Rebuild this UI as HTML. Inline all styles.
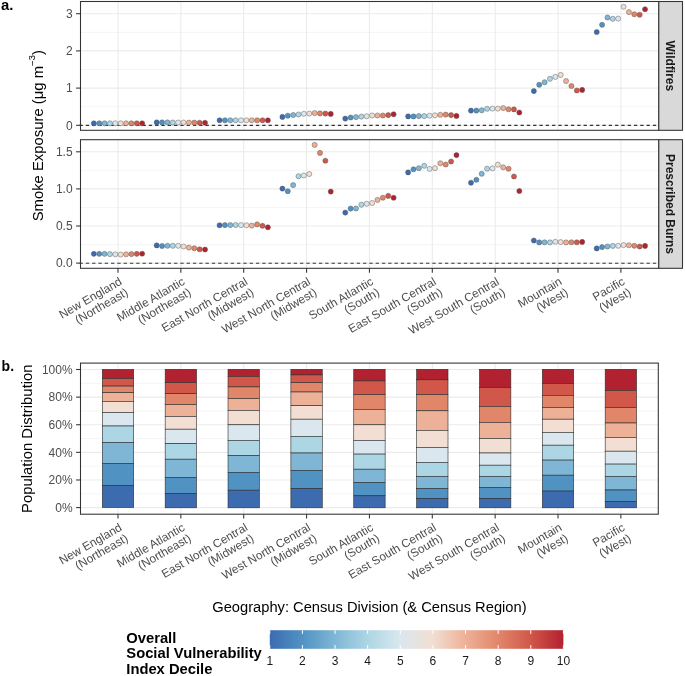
<!DOCTYPE html>
<html><head><meta charset="utf-8"><style>html,body{margin:0;padding:0;background:#fff;width:685px;height:676px;overflow:hidden} svg{will-change:transform} svg text{font-family:"Liberation Sans",sans-serif}</style></head>
<body><svg width="685" height="676" viewBox="0 0 685 676" style="display:block"><rect width="685" height="676" fill="#FFFFFF"/><line x1="80.5" x2="658.8" y1="106.70" y2="106.70" stroke="#EBEBEB" stroke-width="0.55"/><line x1="80.5" x2="658.8" y1="69.50" y2="69.50" stroke="#EBEBEB" stroke-width="0.55"/><line x1="80.5" x2="658.8" y1="32.30" y2="32.30" stroke="#EBEBEB" stroke-width="0.55"/><line x1="80.5" x2="658.8" y1="125.30" y2="125.30" stroke="#EBEBEB" stroke-width="1.07"/><line x1="80.5" x2="658.8" y1="88.10" y2="88.10" stroke="#EBEBEB" stroke-width="1.07"/><line x1="80.5" x2="658.8" y1="50.90" y2="50.90" stroke="#EBEBEB" stroke-width="1.07"/><line x1="80.5" x2="658.8" y1="13.70" y2="13.70" stroke="#EBEBEB" stroke-width="1.07"/><line x1="118.00" x2="118.00" y1="1.5" y2="130.3" stroke="#EBEBEB" stroke-width="1.07"/><line x1="180.86" x2="180.86" y1="1.5" y2="130.3" stroke="#EBEBEB" stroke-width="1.07"/><line x1="243.72" x2="243.72" y1="1.5" y2="130.3" stroke="#EBEBEB" stroke-width="1.07"/><line x1="306.58" x2="306.58" y1="1.5" y2="130.3" stroke="#EBEBEB" stroke-width="1.07"/><line x1="369.44" x2="369.44" y1="1.5" y2="130.3" stroke="#EBEBEB" stroke-width="1.07"/><line x1="432.30" x2="432.30" y1="1.5" y2="130.3" stroke="#EBEBEB" stroke-width="1.07"/><line x1="495.16" x2="495.16" y1="1.5" y2="130.3" stroke="#EBEBEB" stroke-width="1.07"/><line x1="558.02" x2="558.02" y1="1.5" y2="130.3" stroke="#EBEBEB" stroke-width="1.07"/><line x1="620.88" x2="620.88" y1="1.5" y2="130.3" stroke="#EBEBEB" stroke-width="1.07"/><line x1="79.55" x2="658.8" y1="125.35" y2="125.35" stroke="#333333" stroke-width="1.1" stroke-dasharray="3.3 3.0"/><circle cx="93.84" cy="123.30" r="2.55" fill="#3C6BB0" stroke="#555555" stroke-width="0.45"/><circle cx="99.20" cy="123.30" r="2.55" fill="#5093C3" stroke="#555555" stroke-width="0.45"/><circle cx="104.58" cy="123.30" r="2.55" fill="#7FB6D5" stroke="#555555" stroke-width="0.45"/><circle cx="109.94" cy="123.30" r="2.55" fill="#ADD6E5" stroke="#555555" stroke-width="0.45"/><circle cx="115.31" cy="123.30" r="2.55" fill="#DAE7EE" stroke="#555555" stroke-width="0.45"/><circle cx="120.69" cy="123.30" r="2.55" fill="#F2DED2" stroke="#555555" stroke-width="0.45"/><circle cx="126.06" cy="123.30" r="2.55" fill="#EDB198" stroke="#555555" stroke-width="0.45"/><circle cx="131.43" cy="123.30" r="2.55" fill="#E2866A" stroke="#555555" stroke-width="0.45"/><circle cx="136.80" cy="123.30" r="2.55" fill="#D05749" stroke="#555555" stroke-width="0.45"/><circle cx="142.16" cy="123.30" r="2.55" fill="#B22130" stroke="#555555" stroke-width="0.45"/><circle cx="156.70" cy="122.40" r="2.55" fill="#3C6BB0" stroke="#555555" stroke-width="0.45"/><circle cx="162.06" cy="122.40" r="2.55" fill="#5093C3" stroke="#555555" stroke-width="0.45"/><circle cx="167.44" cy="122.40" r="2.55" fill="#7FB6D5" stroke="#555555" stroke-width="0.45"/><circle cx="172.81" cy="122.50" r="2.55" fill="#ADD6E5" stroke="#555555" stroke-width="0.45"/><circle cx="178.18" cy="122.50" r="2.55" fill="#DAE7EE" stroke="#555555" stroke-width="0.45"/><circle cx="183.55" cy="122.50" r="2.55" fill="#F2DED2" stroke="#555555" stroke-width="0.45"/><circle cx="188.92" cy="122.60" r="2.55" fill="#EDB198" stroke="#555555" stroke-width="0.45"/><circle cx="194.29" cy="122.60" r="2.55" fill="#E2866A" stroke="#555555" stroke-width="0.45"/><circle cx="199.66" cy="122.70" r="2.55" fill="#D05749" stroke="#555555" stroke-width="0.45"/><circle cx="205.03" cy="122.70" r="2.55" fill="#B22130" stroke="#555555" stroke-width="0.45"/><circle cx="219.56" cy="120.30" r="2.55" fill="#3C6BB0" stroke="#555555" stroke-width="0.45"/><circle cx="224.93" cy="120.30" r="2.55" fill="#5093C3" stroke="#555555" stroke-width="0.45"/><circle cx="230.29" cy="120.30" r="2.55" fill="#7FB6D5" stroke="#555555" stroke-width="0.45"/><circle cx="235.66" cy="120.30" r="2.55" fill="#ADD6E5" stroke="#555555" stroke-width="0.45"/><circle cx="241.03" cy="120.30" r="2.55" fill="#DAE7EE" stroke="#555555" stroke-width="0.45"/><circle cx="246.41" cy="120.30" r="2.55" fill="#F2DED2" stroke="#555555" stroke-width="0.45"/><circle cx="251.78" cy="120.30" r="2.55" fill="#EDB198" stroke="#555555" stroke-width="0.45"/><circle cx="257.14" cy="120.30" r="2.55" fill="#E2866A" stroke="#555555" stroke-width="0.45"/><circle cx="262.51" cy="120.30" r="2.55" fill="#D05749" stroke="#555555" stroke-width="0.45"/><circle cx="267.88" cy="120.30" r="2.55" fill="#B22130" stroke="#555555" stroke-width="0.45"/><circle cx="282.41" cy="116.90" r="2.55" fill="#3C6BB0" stroke="#555555" stroke-width="0.45"/><circle cx="287.78" cy="115.70" r="2.55" fill="#5093C3" stroke="#555555" stroke-width="0.45"/><circle cx="293.15" cy="115.00" r="2.55" fill="#7FB6D5" stroke="#555555" stroke-width="0.45"/><circle cx="298.52" cy="114.50" r="2.55" fill="#ADD6E5" stroke="#555555" stroke-width="0.45"/><circle cx="303.89" cy="113.80" r="2.55" fill="#DAE7EE" stroke="#555555" stroke-width="0.45"/><circle cx="309.26" cy="113.60" r="2.55" fill="#F2DED2" stroke="#555555" stroke-width="0.45"/><circle cx="314.63" cy="113.10" r="2.55" fill="#EDB198" stroke="#555555" stroke-width="0.45"/><circle cx="320.00" cy="113.40" r="2.55" fill="#E2866A" stroke="#555555" stroke-width="0.45"/><circle cx="325.38" cy="113.60" r="2.55" fill="#D05749" stroke="#555555" stroke-width="0.45"/><circle cx="330.75" cy="113.90" r="2.55" fill="#B22130" stroke="#555555" stroke-width="0.45"/><circle cx="345.27" cy="118.60" r="2.55" fill="#3C6BB0" stroke="#555555" stroke-width="0.45"/><circle cx="350.64" cy="117.50" r="2.55" fill="#5093C3" stroke="#555555" stroke-width="0.45"/><circle cx="356.01" cy="117.10" r="2.55" fill="#7FB6D5" stroke="#555555" stroke-width="0.45"/><circle cx="361.38" cy="116.60" r="2.55" fill="#ADD6E5" stroke="#555555" stroke-width="0.45"/><circle cx="366.75" cy="116.20" r="2.55" fill="#DAE7EE" stroke="#555555" stroke-width="0.45"/><circle cx="372.12" cy="115.50" r="2.55" fill="#F2DED2" stroke="#555555" stroke-width="0.45"/><circle cx="377.50" cy="115.50" r="2.55" fill="#EDB198" stroke="#555555" stroke-width="0.45"/><circle cx="382.87" cy="115.50" r="2.55" fill="#E2866A" stroke="#555555" stroke-width="0.45"/><circle cx="388.24" cy="115.10" r="2.55" fill="#D05749" stroke="#555555" stroke-width="0.45"/><circle cx="393.61" cy="114.20" r="2.55" fill="#B22130" stroke="#555555" stroke-width="0.45"/><circle cx="408.13" cy="116.40" r="2.55" fill="#3C6BB0" stroke="#555555" stroke-width="0.45"/><circle cx="413.50" cy="116.40" r="2.55" fill="#5093C3" stroke="#555555" stroke-width="0.45"/><circle cx="418.88" cy="116.10" r="2.55" fill="#7FB6D5" stroke="#555555" stroke-width="0.45"/><circle cx="424.25" cy="116.10" r="2.55" fill="#ADD6E5" stroke="#555555" stroke-width="0.45"/><circle cx="429.62" cy="115.70" r="2.55" fill="#DAE7EE" stroke="#555555" stroke-width="0.45"/><circle cx="434.99" cy="115.30" r="2.55" fill="#F2DED2" stroke="#555555" stroke-width="0.45"/><circle cx="440.36" cy="114.80" r="2.55" fill="#EDB198" stroke="#555555" stroke-width="0.45"/><circle cx="445.73" cy="114.60" r="2.55" fill="#E2866A" stroke="#555555" stroke-width="0.45"/><circle cx="451.10" cy="115.10" r="2.55" fill="#D05749" stroke="#555555" stroke-width="0.45"/><circle cx="456.47" cy="115.90" r="2.55" fill="#B22130" stroke="#555555" stroke-width="0.45"/><circle cx="470.99" cy="110.60" r="2.55" fill="#3C6BB0" stroke="#555555" stroke-width="0.45"/><circle cx="476.36" cy="110.60" r="2.55" fill="#5093C3" stroke="#555555" stroke-width="0.45"/><circle cx="481.73" cy="110.30" r="2.55" fill="#7FB6D5" stroke="#555555" stroke-width="0.45"/><circle cx="487.10" cy="108.80" r="2.55" fill="#ADD6E5" stroke="#555555" stroke-width="0.45"/><circle cx="492.47" cy="108.60" r="2.55" fill="#DAE7EE" stroke="#555555" stroke-width="0.45"/><circle cx="497.84" cy="108.60" r="2.55" fill="#F2DED2" stroke="#555555" stroke-width="0.45"/><circle cx="503.21" cy="108.10" r="2.55" fill="#EDB198" stroke="#555555" stroke-width="0.45"/><circle cx="508.58" cy="109.30" r="2.55" fill="#E2866A" stroke="#555555" stroke-width="0.45"/><circle cx="513.95" cy="109.40" r="2.55" fill="#D05749" stroke="#555555" stroke-width="0.45"/><circle cx="519.32" cy="112.50" r="2.55" fill="#B22130" stroke="#555555" stroke-width="0.45"/><circle cx="533.86" cy="91.10" r="2.55" fill="#3C6BB0" stroke="#555555" stroke-width="0.45"/><circle cx="539.23" cy="84.80" r="2.55" fill="#5093C3" stroke="#555555" stroke-width="0.45"/><circle cx="544.60" cy="82.20" r="2.55" fill="#7FB6D5" stroke="#555555" stroke-width="0.45"/><circle cx="549.97" cy="78.80" r="2.55" fill="#ADD6E5" stroke="#555555" stroke-width="0.45"/><circle cx="555.34" cy="76.90" r="2.55" fill="#DAE7EE" stroke="#555555" stroke-width="0.45"/><circle cx="560.70" cy="74.90" r="2.55" fill="#F2DED2" stroke="#555555" stroke-width="0.45"/><circle cx="566.07" cy="81.00" r="2.55" fill="#EDB198" stroke="#555555" stroke-width="0.45"/><circle cx="571.44" cy="86.00" r="2.55" fill="#E2866A" stroke="#555555" stroke-width="0.45"/><circle cx="576.81" cy="90.50" r="2.55" fill="#D05749" stroke="#555555" stroke-width="0.45"/><circle cx="582.18" cy="89.90" r="2.55" fill="#B22130" stroke="#555555" stroke-width="0.45"/><circle cx="596.72" cy="32.00" r="2.55" fill="#3C6BB0" stroke="#555555" stroke-width="0.45"/><circle cx="602.09" cy="24.80" r="2.55" fill="#5093C3" stroke="#555555" stroke-width="0.45"/><circle cx="607.46" cy="17.50" r="2.55" fill="#7FB6D5" stroke="#555555" stroke-width="0.45"/><circle cx="612.83" cy="18.80" r="2.55" fill="#ADD6E5" stroke="#555555" stroke-width="0.45"/><circle cx="618.20" cy="18.60" r="2.55" fill="#DAE7EE" stroke="#555555" stroke-width="0.45"/><circle cx="623.56" cy="6.80" r="2.55" fill="#F2DED2" stroke="#555555" stroke-width="0.45"/><circle cx="628.93" cy="12.10" r="2.55" fill="#EDB198" stroke="#555555" stroke-width="0.45"/><circle cx="634.30" cy="14.20" r="2.55" fill="#E2866A" stroke="#555555" stroke-width="0.45"/><circle cx="639.67" cy="14.70" r="2.55" fill="#D05749" stroke="#555555" stroke-width="0.45"/><circle cx="645.04" cy="9.20" r="2.55" fill="#B22130" stroke="#555555" stroke-width="0.45"/><rect x="80.5" y="1.5" width="578.30" height="128.80" fill="none" stroke="#333333" stroke-width="1.07"/><rect x="658.8" y="1.5" width="23.70" height="128.80" fill="#D9D9D9" stroke="#333333" stroke-width="1.07"/><text transform="translate(666.4,65.90) rotate(90)" text-anchor="middle" font-size="12.0" font-weight="bold" fill="#1A1A1A">Wildfires</text><line x1="76.1" x2="80.5" y1="125.30" y2="125.30" stroke="#333333" stroke-width="1.07"/><text x="72.6" y="129.50" text-anchor="end" font-size="12.0" fill="#4D4D4D">0</text><line x1="76.1" x2="80.5" y1="88.10" y2="88.10" stroke="#333333" stroke-width="1.07"/><text x="72.6" y="92.30" text-anchor="end" font-size="12.0" fill="#4D4D4D">1</text><line x1="76.1" x2="80.5" y1="50.90" y2="50.90" stroke="#333333" stroke-width="1.07"/><text x="72.6" y="55.10" text-anchor="end" font-size="12.0" fill="#4D4D4D">2</text><line x1="76.1" x2="80.5" y1="13.70" y2="13.70" stroke="#333333" stroke-width="1.07"/><text x="72.6" y="17.90" text-anchor="end" font-size="12.0" fill="#4D4D4D">3</text><line x1="80.5" x2="658.8" y1="244.55" y2="244.55" stroke="#EBEBEB" stroke-width="0.55"/><line x1="80.5" x2="658.8" y1="207.45" y2="207.45" stroke="#EBEBEB" stroke-width="0.55"/><line x1="80.5" x2="658.8" y1="170.35" y2="170.35" stroke="#EBEBEB" stroke-width="0.55"/><line x1="80.5" x2="658.8" y1="263.10" y2="263.10" stroke="#EBEBEB" stroke-width="1.07"/><line x1="80.5" x2="658.8" y1="226.00" y2="226.00" stroke="#EBEBEB" stroke-width="1.07"/><line x1="80.5" x2="658.8" y1="188.90" y2="188.90" stroke="#EBEBEB" stroke-width="1.07"/><line x1="80.5" x2="658.8" y1="151.80" y2="151.80" stroke="#EBEBEB" stroke-width="1.07"/><line x1="118.00" x2="118.00" y1="139.7" y2="268.3" stroke="#EBEBEB" stroke-width="1.07"/><line x1="180.86" x2="180.86" y1="139.7" y2="268.3" stroke="#EBEBEB" stroke-width="1.07"/><line x1="243.72" x2="243.72" y1="139.7" y2="268.3" stroke="#EBEBEB" stroke-width="1.07"/><line x1="306.58" x2="306.58" y1="139.7" y2="268.3" stroke="#EBEBEB" stroke-width="1.07"/><line x1="369.44" x2="369.44" y1="139.7" y2="268.3" stroke="#EBEBEB" stroke-width="1.07"/><line x1="432.30" x2="432.30" y1="139.7" y2="268.3" stroke="#EBEBEB" stroke-width="1.07"/><line x1="495.16" x2="495.16" y1="139.7" y2="268.3" stroke="#EBEBEB" stroke-width="1.07"/><line x1="558.02" x2="558.02" y1="139.7" y2="268.3" stroke="#EBEBEB" stroke-width="1.07"/><line x1="620.88" x2="620.88" y1="139.7" y2="268.3" stroke="#EBEBEB" stroke-width="1.07"/><line x1="79.55" x2="658.8" y1="263.2" y2="263.2" stroke="#333333" stroke-width="1.1" stroke-dasharray="3.3 3.0"/><circle cx="93.84" cy="253.90" r="2.55" fill="#3C6BB0" stroke="#555555" stroke-width="0.45"/><circle cx="99.20" cy="253.90" r="2.55" fill="#5093C3" stroke="#555555" stroke-width="0.45"/><circle cx="104.58" cy="253.90" r="2.55" fill="#7FB6D5" stroke="#555555" stroke-width="0.45"/><circle cx="109.94" cy="254.10" r="2.55" fill="#ADD6E5" stroke="#555555" stroke-width="0.45"/><circle cx="115.31" cy="254.30" r="2.55" fill="#DAE7EE" stroke="#555555" stroke-width="0.45"/><circle cx="120.69" cy="254.50" r="2.55" fill="#F2DED2" stroke="#555555" stroke-width="0.45"/><circle cx="126.06" cy="254.30" r="2.55" fill="#EDB198" stroke="#555555" stroke-width="0.45"/><circle cx="131.43" cy="254.10" r="2.55" fill="#E2866A" stroke="#555555" stroke-width="0.45"/><circle cx="136.80" cy="253.90" r="2.55" fill="#D05749" stroke="#555555" stroke-width="0.45"/><circle cx="142.16" cy="253.70" r="2.55" fill="#B22130" stroke="#555555" stroke-width="0.45"/><circle cx="156.70" cy="245.40" r="2.55" fill="#3C6BB0" stroke="#555555" stroke-width="0.45"/><circle cx="162.06" cy="246.00" r="2.55" fill="#5093C3" stroke="#555555" stroke-width="0.45"/><circle cx="167.44" cy="245.80" r="2.55" fill="#7FB6D5" stroke="#555555" stroke-width="0.45"/><circle cx="172.81" cy="245.80" r="2.55" fill="#ADD6E5" stroke="#555555" stroke-width="0.45"/><circle cx="178.18" cy="245.80" r="2.55" fill="#DAE7EE" stroke="#555555" stroke-width="0.45"/><circle cx="183.55" cy="246.50" r="2.55" fill="#F2DED2" stroke="#555555" stroke-width="0.45"/><circle cx="188.92" cy="247.60" r="2.55" fill="#EDB198" stroke="#555555" stroke-width="0.45"/><circle cx="194.29" cy="248.20" r="2.55" fill="#E2866A" stroke="#555555" stroke-width="0.45"/><circle cx="199.66" cy="249.30" r="2.55" fill="#D05749" stroke="#555555" stroke-width="0.45"/><circle cx="205.03" cy="249.50" r="2.55" fill="#B22130" stroke="#555555" stroke-width="0.45"/><circle cx="219.56" cy="225.30" r="2.55" fill="#3C6BB0" stroke="#555555" stroke-width="0.45"/><circle cx="224.93" cy="225.10" r="2.55" fill="#5093C3" stroke="#555555" stroke-width="0.45"/><circle cx="230.29" cy="225.10" r="2.55" fill="#7FB6D5" stroke="#555555" stroke-width="0.45"/><circle cx="235.66" cy="225.00" r="2.55" fill="#ADD6E5" stroke="#555555" stroke-width="0.45"/><circle cx="241.03" cy="225.10" r="2.55" fill="#DAE7EE" stroke="#555555" stroke-width="0.45"/><circle cx="246.41" cy="225.30" r="2.55" fill="#F2DED2" stroke="#555555" stroke-width="0.45"/><circle cx="251.78" cy="225.60" r="2.55" fill="#EDB198" stroke="#555555" stroke-width="0.45"/><circle cx="257.14" cy="224.40" r="2.55" fill="#E2866A" stroke="#555555" stroke-width="0.45"/><circle cx="262.51" cy="225.80" r="2.55" fill="#D05749" stroke="#555555" stroke-width="0.45"/><circle cx="267.88" cy="227.30" r="2.55" fill="#B22130" stroke="#555555" stroke-width="0.45"/><circle cx="282.41" cy="188.60" r="2.55" fill="#3C6BB0" stroke="#555555" stroke-width="0.45"/><circle cx="287.78" cy="191.20" r="2.55" fill="#5093C3" stroke="#555555" stroke-width="0.45"/><circle cx="293.15" cy="185.10" r="2.55" fill="#7FB6D5" stroke="#555555" stroke-width="0.45"/><circle cx="298.52" cy="176.20" r="2.55" fill="#ADD6E5" stroke="#555555" stroke-width="0.45"/><circle cx="303.89" cy="175.50" r="2.55" fill="#DAE7EE" stroke="#555555" stroke-width="0.45"/><circle cx="309.26" cy="174.00" r="2.55" fill="#F2DED2" stroke="#555555" stroke-width="0.45"/><circle cx="314.63" cy="144.90" r="2.55" fill="#EDB198" stroke="#555555" stroke-width="0.45"/><circle cx="320.00" cy="152.90" r="2.55" fill="#E2866A" stroke="#555555" stroke-width="0.45"/><circle cx="325.38" cy="160.70" r="2.55" fill="#D05749" stroke="#555555" stroke-width="0.45"/><circle cx="330.75" cy="191.60" r="2.55" fill="#B22130" stroke="#555555" stroke-width="0.45"/><circle cx="345.27" cy="212.60" r="2.55" fill="#3C6BB0" stroke="#555555" stroke-width="0.45"/><circle cx="350.64" cy="208.60" r="2.55" fill="#5093C3" stroke="#555555" stroke-width="0.45"/><circle cx="356.01" cy="208.50" r="2.55" fill="#7FB6D5" stroke="#555555" stroke-width="0.45"/><circle cx="361.38" cy="204.70" r="2.55" fill="#ADD6E5" stroke="#555555" stroke-width="0.45"/><circle cx="366.75" cy="203.80" r="2.55" fill="#DAE7EE" stroke="#555555" stroke-width="0.45"/><circle cx="372.12" cy="203.00" r="2.55" fill="#F2DED2" stroke="#555555" stroke-width="0.45"/><circle cx="377.50" cy="199.90" r="2.55" fill="#EDB198" stroke="#555555" stroke-width="0.45"/><circle cx="382.87" cy="197.70" r="2.55" fill="#E2866A" stroke="#555555" stroke-width="0.45"/><circle cx="388.24" cy="195.90" r="2.55" fill="#D05749" stroke="#555555" stroke-width="0.45"/><circle cx="393.61" cy="197.70" r="2.55" fill="#B22130" stroke="#555555" stroke-width="0.45"/><circle cx="408.13" cy="172.40" r="2.55" fill="#3C6BB0" stroke="#555555" stroke-width="0.45"/><circle cx="413.50" cy="169.30" r="2.55" fill="#5093C3" stroke="#555555" stroke-width="0.45"/><circle cx="418.88" cy="168.20" r="2.55" fill="#7FB6D5" stroke="#555555" stroke-width="0.45"/><circle cx="424.25" cy="165.80" r="2.55" fill="#ADD6E5" stroke="#555555" stroke-width="0.45"/><circle cx="429.62" cy="168.90" r="2.55" fill="#DAE7EE" stroke="#555555" stroke-width="0.45"/><circle cx="434.99" cy="168.20" r="2.55" fill="#F2DED2" stroke="#555555" stroke-width="0.45"/><circle cx="440.36" cy="163.20" r="2.55" fill="#EDB198" stroke="#555555" stroke-width="0.45"/><circle cx="445.73" cy="164.50" r="2.55" fill="#E2866A" stroke="#555555" stroke-width="0.45"/><circle cx="451.10" cy="161.50" r="2.55" fill="#D05749" stroke="#555555" stroke-width="0.45"/><circle cx="456.47" cy="155.10" r="2.55" fill="#B22130" stroke="#555555" stroke-width="0.45"/><circle cx="470.99" cy="182.70" r="2.55" fill="#3C6BB0" stroke="#555555" stroke-width="0.45"/><circle cx="476.36" cy="179.80" r="2.55" fill="#5093C3" stroke="#555555" stroke-width="0.45"/><circle cx="481.73" cy="173.80" r="2.55" fill="#7FB6D5" stroke="#555555" stroke-width="0.45"/><circle cx="487.10" cy="168.70" r="2.55" fill="#ADD6E5" stroke="#555555" stroke-width="0.45"/><circle cx="492.47" cy="168.40" r="2.55" fill="#DAE7EE" stroke="#555555" stroke-width="0.45"/><circle cx="497.84" cy="164.70" r="2.55" fill="#F2DED2" stroke="#555555" stroke-width="0.45"/><circle cx="503.21" cy="167.30" r="2.55" fill="#EDB198" stroke="#555555" stroke-width="0.45"/><circle cx="508.58" cy="168.80" r="2.55" fill="#E2866A" stroke="#555555" stroke-width="0.45"/><circle cx="513.95" cy="176.50" r="2.55" fill="#D05749" stroke="#555555" stroke-width="0.45"/><circle cx="519.32" cy="191.00" r="2.55" fill="#B22130" stroke="#555555" stroke-width="0.45"/><circle cx="533.86" cy="240.50" r="2.55" fill="#3C6BB0" stroke="#555555" stroke-width="0.45"/><circle cx="539.23" cy="242.40" r="2.55" fill="#5093C3" stroke="#555555" stroke-width="0.45"/><circle cx="544.60" cy="242.30" r="2.55" fill="#7FB6D5" stroke="#555555" stroke-width="0.45"/><circle cx="549.97" cy="242.40" r="2.55" fill="#ADD6E5" stroke="#555555" stroke-width="0.45"/><circle cx="555.34" cy="241.80" r="2.55" fill="#DAE7EE" stroke="#555555" stroke-width="0.45"/><circle cx="560.70" cy="242.10" r="2.55" fill="#F2DED2" stroke="#555555" stroke-width="0.45"/><circle cx="566.07" cy="242.40" r="2.55" fill="#EDB198" stroke="#555555" stroke-width="0.45"/><circle cx="571.44" cy="242.30" r="2.55" fill="#E2866A" stroke="#555555" stroke-width="0.45"/><circle cx="576.81" cy="242.30" r="2.55" fill="#D05749" stroke="#555555" stroke-width="0.45"/><circle cx="582.18" cy="241.90" r="2.55" fill="#B22130" stroke="#555555" stroke-width="0.45"/><circle cx="596.72" cy="248.40" r="2.55" fill="#3C6BB0" stroke="#555555" stroke-width="0.45"/><circle cx="602.09" cy="247.10" r="2.55" fill="#5093C3" stroke="#555555" stroke-width="0.45"/><circle cx="607.46" cy="246.50" r="2.55" fill="#7FB6D5" stroke="#555555" stroke-width="0.45"/><circle cx="612.83" cy="245.90" r="2.55" fill="#ADD6E5" stroke="#555555" stroke-width="0.45"/><circle cx="618.20" cy="245.80" r="2.55" fill="#DAE7EE" stroke="#555555" stroke-width="0.45"/><circle cx="623.56" cy="245.10" r="2.55" fill="#F2DED2" stroke="#555555" stroke-width="0.45"/><circle cx="628.93" cy="245.30" r="2.55" fill="#EDB198" stroke="#555555" stroke-width="0.45"/><circle cx="634.30" cy="245.80" r="2.55" fill="#E2866A" stroke="#555555" stroke-width="0.45"/><circle cx="639.67" cy="246.50" r="2.55" fill="#D05749" stroke="#555555" stroke-width="0.45"/><circle cx="645.04" cy="245.90" r="2.55" fill="#B22130" stroke="#555555" stroke-width="0.45"/><rect x="80.5" y="139.7" width="578.30" height="128.60" fill="none" stroke="#333333" stroke-width="1.07"/><rect x="658.8" y="139.7" width="23.70" height="128.60" fill="#D9D9D9" stroke="#333333" stroke-width="1.07"/><text transform="translate(666.4,204.00) rotate(90)" text-anchor="middle" font-size="12.0" font-weight="bold" fill="#1A1A1A">Prescribed Burns</text><line x1="76.1" x2="80.5" y1="263.10" y2="263.10" stroke="#333333" stroke-width="1.07"/><text x="72.6" y="267.30" text-anchor="end" font-size="12.0" fill="#4D4D4D">0.0</text><line x1="76.1" x2="80.5" y1="226.00" y2="226.00" stroke="#333333" stroke-width="1.07"/><text x="72.6" y="230.20" text-anchor="end" font-size="12.0" fill="#4D4D4D">0.5</text><line x1="76.1" x2="80.5" y1="188.90" y2="188.90" stroke="#333333" stroke-width="1.07"/><text x="72.6" y="193.10" text-anchor="end" font-size="12.0" fill="#4D4D4D">1.0</text><line x1="76.1" x2="80.5" y1="151.80" y2="151.80" stroke="#333333" stroke-width="1.07"/><text x="72.6" y="156.00" text-anchor="end" font-size="12.0" fill="#4D4D4D">1.5</text><line x1="118.00" x2="118.00" y1="268.3" y2="272.70" stroke="#333333" stroke-width="1.07"/><line x1="180.86" x2="180.86" y1="268.3" y2="272.70" stroke="#333333" stroke-width="1.07"/><line x1="243.72" x2="243.72" y1="268.3" y2="272.70" stroke="#333333" stroke-width="1.07"/><line x1="306.58" x2="306.58" y1="268.3" y2="272.70" stroke="#333333" stroke-width="1.07"/><line x1="369.44" x2="369.44" y1="268.3" y2="272.70" stroke="#333333" stroke-width="1.07"/><line x1="432.30" x2="432.30" y1="268.3" y2="272.70" stroke="#333333" stroke-width="1.07"/><line x1="495.16" x2="495.16" y1="268.3" y2="272.70" stroke="#333333" stroke-width="1.07"/><line x1="558.02" x2="558.02" y1="268.3" y2="272.70" stroke="#333333" stroke-width="1.07"/><line x1="620.88" x2="620.88" y1="268.3" y2="272.70" stroke="#333333" stroke-width="1.07"/><g transform="translate(118.00,275.60) rotate(-30)"><text text-anchor="end" font-size="11.8" fill="#4D4D4D"><tspan x="0" y="9.5">New England</tspan><tspan x="0" y="22.0">(Northeast)</tspan></text></g><g transform="translate(180.86,275.60) rotate(-30)"><text text-anchor="end" font-size="11.8" fill="#4D4D4D"><tspan x="0" y="9.5">Middle Atlantic</tspan><tspan x="0" y="22.0">(Northeast)</tspan></text></g><g transform="translate(243.72,275.60) rotate(-30)"><text text-anchor="end" font-size="11.8" fill="#4D4D4D"><tspan x="0" y="9.5">East North Central</tspan><tspan x="0" y="22.0">(Midwest)</tspan></text></g><g transform="translate(306.58,275.60) rotate(-30)"><text text-anchor="end" font-size="11.8" fill="#4D4D4D"><tspan x="0" y="9.5">West North Central</tspan><tspan x="0" y="22.0">(Midwest)</tspan></text></g><g transform="translate(369.44,275.60) rotate(-30)"><text text-anchor="end" font-size="11.8" fill="#4D4D4D"><tspan x="0" y="9.5">South Atlantic</tspan><tspan x="0" y="22.0">(South)</tspan></text></g><g transform="translate(432.30,275.60) rotate(-30)"><text text-anchor="end" font-size="11.8" fill="#4D4D4D"><tspan x="0" y="9.5">East South Central</tspan><tspan x="0" y="22.0">(South)</tspan></text></g><g transform="translate(495.16,275.60) rotate(-30)"><text text-anchor="end" font-size="11.8" fill="#4D4D4D"><tspan x="0" y="9.5">West South Central</tspan><tspan x="0" y="22.0">(South)</tspan></text></g><g transform="translate(558.02,275.60) rotate(-30)"><text text-anchor="end" font-size="11.8" fill="#4D4D4D"><tspan x="0" y="9.5">Mountain</tspan><tspan x="0" y="22.0">(West)</tspan></text></g><g transform="translate(620.88,275.60) rotate(-30)"><text text-anchor="end" font-size="11.8" fill="#4D4D4D"><tspan x="0" y="9.5">Pacific</tspan><tspan x="0" y="22.0">(West)</tspan></text></g><text transform="translate(42.7,135.7) rotate(-90)" text-anchor="middle" font-size="14.85" fill="#000">Smoke Exposure (μg m<tspan dy="-6.6" font-size="9.8">−</tspan><tspan dy="-1.6" font-size="9.4">3</tspan><tspan dy="8.2">)</tspan></text><text x="1" y="9.9" font-size="14.85" font-weight="bold" fill="#000">a.</text><line x1="80.5" x2="658.3" y1="493.79" y2="493.79" stroke="#EBEBEB" stroke-width="0.55"/><line x1="80.5" x2="658.3" y1="466.17" y2="466.17" stroke="#EBEBEB" stroke-width="0.55"/><line x1="80.5" x2="658.3" y1="438.55" y2="438.55" stroke="#EBEBEB" stroke-width="0.55"/><line x1="80.5" x2="658.3" y1="410.93" y2="410.93" stroke="#EBEBEB" stroke-width="0.55"/><line x1="80.5" x2="658.3" y1="383.31" y2="383.31" stroke="#EBEBEB" stroke-width="0.55"/><line x1="80.5" x2="658.3" y1="507.60" y2="507.60" stroke="#EBEBEB" stroke-width="1.07"/><line x1="80.5" x2="658.3" y1="479.98" y2="479.98" stroke="#EBEBEB" stroke-width="1.07"/><line x1="80.5" x2="658.3" y1="452.36" y2="452.36" stroke="#EBEBEB" stroke-width="1.07"/><line x1="80.5" x2="658.3" y1="424.74" y2="424.74" stroke="#EBEBEB" stroke-width="1.07"/><line x1="80.5" x2="658.3" y1="397.12" y2="397.12" stroke="#EBEBEB" stroke-width="1.07"/><line x1="80.5" x2="658.3" y1="369.50" y2="369.50" stroke="#EBEBEB" stroke-width="1.07"/><line x1="118.00" x2="118.00" y1="363.1" y2="514.2" stroke="#EBEBEB" stroke-width="1.07"/><line x1="180.86" x2="180.86" y1="363.1" y2="514.2" stroke="#EBEBEB" stroke-width="1.07"/><line x1="243.72" x2="243.72" y1="363.1" y2="514.2" stroke="#EBEBEB" stroke-width="1.07"/><line x1="306.58" x2="306.58" y1="363.1" y2="514.2" stroke="#EBEBEB" stroke-width="1.07"/><line x1="369.44" x2="369.44" y1="363.1" y2="514.2" stroke="#EBEBEB" stroke-width="1.07"/><line x1="432.30" x2="432.30" y1="363.1" y2="514.2" stroke="#EBEBEB" stroke-width="1.07"/><line x1="495.16" x2="495.16" y1="363.1" y2="514.2" stroke="#EBEBEB" stroke-width="1.07"/><line x1="558.02" x2="558.02" y1="363.1" y2="514.2" stroke="#EBEBEB" stroke-width="1.07"/><line x1="620.88" x2="620.88" y1="363.1" y2="514.2" stroke="#EBEBEB" stroke-width="1.07"/><rect x="102.30" y="369.40" width="31.4" height="9.10" fill="#B22130" stroke="#2B2B2B" stroke-width="0.6"/><rect x="102.30" y="378.50" width="31.4" height="7.60" fill="#D05749" stroke="#2B2B2B" stroke-width="0.6"/><rect x="102.30" y="386.10" width="31.4" height="6.60" fill="#E2866A" stroke="#2B2B2B" stroke-width="0.6"/><rect x="102.30" y="392.70" width="31.4" height="8.70" fill="#EDB198" stroke="#2B2B2B" stroke-width="0.6"/><rect x="102.30" y="401.40" width="31.4" height="11.10" fill="#F2DED2" stroke="#2B2B2B" stroke-width="0.6"/><rect x="102.30" y="412.50" width="31.4" height="13.50" fill="#DAE7EE" stroke="#2B2B2B" stroke-width="0.6"/><rect x="102.30" y="426.00" width="31.4" height="16.50" fill="#ADD6E5" stroke="#2B2B2B" stroke-width="0.6"/><rect x="102.30" y="442.50" width="31.4" height="20.90" fill="#7FB6D5" stroke="#2B2B2B" stroke-width="0.6"/><rect x="102.30" y="463.40" width="31.4" height="21.90" fill="#5093C3" stroke="#2B2B2B" stroke-width="0.6"/><rect x="102.30" y="485.30" width="31.4" height="22.20" fill="#3C6BB0" stroke="#2B2B2B" stroke-width="0.6"/><rect x="165.16" y="369.30" width="31.4" height="13.30" fill="#B22130" stroke="#2B2B2B" stroke-width="0.6"/><rect x="165.16" y="382.60" width="31.4" height="11.10" fill="#D05749" stroke="#2B2B2B" stroke-width="0.6"/><rect x="165.16" y="393.70" width="31.4" height="10.90" fill="#E2866A" stroke="#2B2B2B" stroke-width="0.6"/><rect x="165.16" y="404.60" width="31.4" height="11.80" fill="#EDB198" stroke="#2B2B2B" stroke-width="0.6"/><rect x="165.16" y="416.40" width="31.4" height="12.80" fill="#F2DED2" stroke="#2B2B2B" stroke-width="0.6"/><rect x="165.16" y="429.20" width="31.4" height="14.50" fill="#DAE7EE" stroke="#2B2B2B" stroke-width="0.6"/><rect x="165.16" y="443.70" width="31.4" height="15.50" fill="#ADD6E5" stroke="#2B2B2B" stroke-width="0.6"/><rect x="165.16" y="459.20" width="31.4" height="18.20" fill="#7FB6D5" stroke="#2B2B2B" stroke-width="0.6"/><rect x="165.16" y="477.40" width="31.4" height="16.00" fill="#5093C3" stroke="#2B2B2B" stroke-width="0.6"/><rect x="165.16" y="493.40" width="31.4" height="14.40" fill="#3C6BB0" stroke="#2B2B2B" stroke-width="0.6"/><rect x="228.02" y="369.30" width="31.4" height="7.10" fill="#B22130" stroke="#2B2B2B" stroke-width="0.6"/><rect x="228.02" y="376.40" width="31.4" height="10.50" fill="#D05749" stroke="#2B2B2B" stroke-width="0.6"/><rect x="228.02" y="386.90" width="31.4" height="11.70" fill="#E2866A" stroke="#2B2B2B" stroke-width="0.6"/><rect x="228.02" y="398.60" width="31.4" height="11.80" fill="#EDB198" stroke="#2B2B2B" stroke-width="0.6"/><rect x="228.02" y="410.40" width="31.4" height="14.40" fill="#F2DED2" stroke="#2B2B2B" stroke-width="0.6"/><rect x="228.02" y="424.80" width="31.4" height="15.50" fill="#DAE7EE" stroke="#2B2B2B" stroke-width="0.6"/><rect x="228.02" y="440.30" width="31.4" height="15.30" fill="#ADD6E5" stroke="#2B2B2B" stroke-width="0.6"/><rect x="228.02" y="455.60" width="31.4" height="16.70" fill="#7FB6D5" stroke="#2B2B2B" stroke-width="0.6"/><rect x="228.02" y="472.30" width="31.4" height="17.90" fill="#5093C3" stroke="#2B2B2B" stroke-width="0.6"/><rect x="228.02" y="490.20" width="31.4" height="17.60" fill="#3C6BB0" stroke="#2B2B2B" stroke-width="0.6"/><rect x="290.88" y="369.30" width="31.4" height="5.60" fill="#B22130" stroke="#2B2B2B" stroke-width="0.6"/><rect x="290.88" y="374.90" width="31.4" height="7.70" fill="#D05749" stroke="#2B2B2B" stroke-width="0.6"/><rect x="290.88" y="382.60" width="31.4" height="9.40" fill="#E2866A" stroke="#2B2B2B" stroke-width="0.6"/><rect x="290.88" y="392.00" width="31.4" height="13.70" fill="#EDB198" stroke="#2B2B2B" stroke-width="0.6"/><rect x="290.88" y="405.70" width="31.4" height="13.50" fill="#F2DED2" stroke="#2B2B2B" stroke-width="0.6"/><rect x="290.88" y="419.20" width="31.4" height="17.10" fill="#DAE7EE" stroke="#2B2B2B" stroke-width="0.6"/><rect x="290.88" y="436.30" width="31.4" height="16.70" fill="#ADD6E5" stroke="#2B2B2B" stroke-width="0.6"/><rect x="290.88" y="453.00" width="31.4" height="17.30" fill="#7FB6D5" stroke="#2B2B2B" stroke-width="0.6"/><rect x="290.88" y="470.30" width="31.4" height="18.20" fill="#5093C3" stroke="#2B2B2B" stroke-width="0.6"/><rect x="290.88" y="488.50" width="31.4" height="19.30" fill="#3C6BB0" stroke="#2B2B2B" stroke-width="0.6"/><rect x="353.74" y="369.30" width="31.4" height="11.60" fill="#B22130" stroke="#2B2B2B" stroke-width="0.6"/><rect x="353.74" y="380.90" width="31.4" height="13.70" fill="#D05749" stroke="#2B2B2B" stroke-width="0.6"/><rect x="353.74" y="394.60" width="31.4" height="14.70" fill="#E2866A" stroke="#2B2B2B" stroke-width="0.6"/><rect x="353.74" y="409.30" width="31.4" height="15.50" fill="#EDB198" stroke="#2B2B2B" stroke-width="0.6"/><rect x="353.74" y="424.80" width="31.4" height="15.50" fill="#F2DED2" stroke="#2B2B2B" stroke-width="0.6"/><rect x="353.74" y="440.30" width="31.4" height="13.80" fill="#DAE7EE" stroke="#2B2B2B" stroke-width="0.6"/><rect x="353.74" y="454.10" width="31.4" height="15.10" fill="#ADD6E5" stroke="#2B2B2B" stroke-width="0.6"/><rect x="353.74" y="469.20" width="31.4" height="13.30" fill="#7FB6D5" stroke="#2B2B2B" stroke-width="0.6"/><rect x="353.74" y="482.50" width="31.4" height="13.30" fill="#5093C3" stroke="#2B2B2B" stroke-width="0.6"/><rect x="353.74" y="495.80" width="31.4" height="12.00" fill="#3C6BB0" stroke="#2B2B2B" stroke-width="0.6"/><rect x="416.60" y="369.30" width="31.4" height="10.50" fill="#B22130" stroke="#2B2B2B" stroke-width="0.6"/><rect x="416.60" y="379.80" width="31.4" height="14.80" fill="#D05749" stroke="#2B2B2B" stroke-width="0.6"/><rect x="416.60" y="394.60" width="31.4" height="16.20" fill="#E2866A" stroke="#2B2B2B" stroke-width="0.6"/><rect x="416.60" y="410.80" width="31.4" height="19.50" fill="#EDB198" stroke="#2B2B2B" stroke-width="0.6"/><rect x="416.60" y="430.30" width="31.4" height="17.10" fill="#F2DED2" stroke="#2B2B2B" stroke-width="0.6"/><rect x="416.60" y="447.40" width="31.4" height="14.90" fill="#DAE7EE" stroke="#2B2B2B" stroke-width="0.6"/><rect x="416.60" y="462.30" width="31.4" height="14.00" fill="#ADD6E5" stroke="#2B2B2B" stroke-width="0.6"/><rect x="416.60" y="476.30" width="31.4" height="12.20" fill="#7FB6D5" stroke="#2B2B2B" stroke-width="0.6"/><rect x="416.60" y="488.50" width="31.4" height="10.00" fill="#5093C3" stroke="#2B2B2B" stroke-width="0.6"/><rect x="416.60" y="498.50" width="31.4" height="9.30" fill="#3C6BB0" stroke="#2B2B2B" stroke-width="0.6"/><rect x="479.46" y="369.30" width="31.4" height="18.20" fill="#B22130" stroke="#2B2B2B" stroke-width="0.6"/><rect x="479.46" y="387.50" width="31.4" height="18.90" fill="#D05749" stroke="#2B2B2B" stroke-width="0.6"/><rect x="479.46" y="406.40" width="31.4" height="16.00" fill="#E2866A" stroke="#2B2B2B" stroke-width="0.6"/><rect x="479.46" y="422.40" width="31.4" height="16.10" fill="#EDB198" stroke="#2B2B2B" stroke-width="0.6"/><rect x="479.46" y="438.50" width="31.4" height="14.50" fill="#F2DED2" stroke="#2B2B2B" stroke-width="0.6"/><rect x="479.46" y="453.00" width="31.4" height="12.20" fill="#DAE7EE" stroke="#2B2B2B" stroke-width="0.6"/><rect x="479.46" y="465.20" width="31.4" height="11.10" fill="#ADD6E5" stroke="#2B2B2B" stroke-width="0.6"/><rect x="479.46" y="476.30" width="31.4" height="11.10" fill="#7FB6D5" stroke="#2B2B2B" stroke-width="0.6"/><rect x="479.46" y="487.40" width="31.4" height="11.10" fill="#5093C3" stroke="#2B2B2B" stroke-width="0.6"/><rect x="479.46" y="498.50" width="31.4" height="9.30" fill="#3C6BB0" stroke="#2B2B2B" stroke-width="0.6"/><rect x="542.32" y="369.30" width="31.4" height="14.20" fill="#B22130" stroke="#2B2B2B" stroke-width="0.6"/><rect x="542.32" y="383.50" width="31.4" height="11.80" fill="#D05749" stroke="#2B2B2B" stroke-width="0.6"/><rect x="542.32" y="395.30" width="31.4" height="12.20" fill="#E2866A" stroke="#2B2B2B" stroke-width="0.6"/><rect x="542.32" y="407.50" width="31.4" height="11.70" fill="#EDB198" stroke="#2B2B2B" stroke-width="0.6"/><rect x="542.32" y="419.20" width="31.4" height="13.10" fill="#F2DED2" stroke="#2B2B2B" stroke-width="0.6"/><rect x="542.32" y="432.30" width="31.4" height="12.90" fill="#DAE7EE" stroke="#2B2B2B" stroke-width="0.6"/><rect x="542.32" y="445.20" width="31.4" height="14.90" fill="#ADD6E5" stroke="#2B2B2B" stroke-width="0.6"/><rect x="542.32" y="460.10" width="31.4" height="15.10" fill="#7FB6D5" stroke="#2B2B2B" stroke-width="0.6"/><rect x="542.32" y="475.20" width="31.4" height="15.90" fill="#5093C3" stroke="#2B2B2B" stroke-width="0.6"/><rect x="542.32" y="491.10" width="31.4" height="16.70" fill="#3C6BB0" stroke="#2B2B2B" stroke-width="0.6"/><rect x="605.18" y="369.30" width="31.4" height="21.10" fill="#B22130" stroke="#2B2B2B" stroke-width="0.6"/><rect x="605.18" y="390.40" width="31.4" height="17.10" fill="#D05749" stroke="#2B2B2B" stroke-width="0.6"/><rect x="605.18" y="407.50" width="31.4" height="15.50" fill="#E2866A" stroke="#2B2B2B" stroke-width="0.6"/><rect x="605.18" y="423.00" width="31.4" height="14.40" fill="#EDB198" stroke="#2B2B2B" stroke-width="0.6"/><rect x="605.18" y="437.40" width="31.4" height="13.80" fill="#F2DED2" stroke="#2B2B2B" stroke-width="0.6"/><rect x="605.18" y="451.20" width="31.4" height="12.90" fill="#DAE7EE" stroke="#2B2B2B" stroke-width="0.6"/><rect x="605.18" y="464.10" width="31.4" height="12.20" fill="#ADD6E5" stroke="#2B2B2B" stroke-width="0.6"/><rect x="605.18" y="476.30" width="31.4" height="13.70" fill="#7FB6D5" stroke="#2B2B2B" stroke-width="0.6"/><rect x="605.18" y="490.00" width="31.4" height="11.30" fill="#5093C3" stroke="#2B2B2B" stroke-width="0.6"/><rect x="605.18" y="501.30" width="31.4" height="6.50" fill="#3C6BB0" stroke="#2B2B2B" stroke-width="0.6"/><rect x="80.5" y="363.1" width="577.80" height="151.10" fill="none" stroke="#333333" stroke-width="1.07"/><line x1="76.1" x2="80.5" y1="507.60" y2="507.60" stroke="#333333" stroke-width="1.07"/><text x="72.6" y="511.80" text-anchor="end" font-size="12.0" fill="#4D4D4D">0%</text><line x1="76.1" x2="80.5" y1="479.98" y2="479.98" stroke="#333333" stroke-width="1.07"/><text x="72.6" y="484.18" text-anchor="end" font-size="12.0" fill="#4D4D4D">20%</text><line x1="76.1" x2="80.5" y1="452.36" y2="452.36" stroke="#333333" stroke-width="1.07"/><text x="72.6" y="456.56" text-anchor="end" font-size="12.0" fill="#4D4D4D">40%</text><line x1="76.1" x2="80.5" y1="424.74" y2="424.74" stroke="#333333" stroke-width="1.07"/><text x="72.6" y="428.94" text-anchor="end" font-size="12.0" fill="#4D4D4D">60%</text><line x1="76.1" x2="80.5" y1="397.12" y2="397.12" stroke="#333333" stroke-width="1.07"/><text x="72.6" y="401.32" text-anchor="end" font-size="12.0" fill="#4D4D4D">80%</text><line x1="76.1" x2="80.5" y1="369.50" y2="369.50" stroke="#333333" stroke-width="1.07"/><text x="72.6" y="373.70" text-anchor="end" font-size="12.0" fill="#4D4D4D">100%</text><line x1="118.00" x2="118.00" y1="514.2" y2="518.60" stroke="#333333" stroke-width="1.07"/><line x1="180.86" x2="180.86" y1="514.2" y2="518.60" stroke="#333333" stroke-width="1.07"/><line x1="243.72" x2="243.72" y1="514.2" y2="518.60" stroke="#333333" stroke-width="1.07"/><line x1="306.58" x2="306.58" y1="514.2" y2="518.60" stroke="#333333" stroke-width="1.07"/><line x1="369.44" x2="369.44" y1="514.2" y2="518.60" stroke="#333333" stroke-width="1.07"/><line x1="432.30" x2="432.30" y1="514.2" y2="518.60" stroke="#333333" stroke-width="1.07"/><line x1="495.16" x2="495.16" y1="514.2" y2="518.60" stroke="#333333" stroke-width="1.07"/><line x1="558.02" x2="558.02" y1="514.2" y2="518.60" stroke="#333333" stroke-width="1.07"/><line x1="620.88" x2="620.88" y1="514.2" y2="518.60" stroke="#333333" stroke-width="1.07"/><g transform="translate(118.00,521.50) rotate(-30)"><text text-anchor="end" font-size="11.8" fill="#4D4D4D"><tspan x="0" y="9.5">New England</tspan><tspan x="0" y="22.0">(Northeast)</tspan></text></g><g transform="translate(180.86,521.50) rotate(-30)"><text text-anchor="end" font-size="11.8" fill="#4D4D4D"><tspan x="0" y="9.5">Middle Atlantic</tspan><tspan x="0" y="22.0">(Northeast)</tspan></text></g><g transform="translate(243.72,521.50) rotate(-30)"><text text-anchor="end" font-size="11.8" fill="#4D4D4D"><tspan x="0" y="9.5">East North Central</tspan><tspan x="0" y="22.0">(Midwest)</tspan></text></g><g transform="translate(306.58,521.50) rotate(-30)"><text text-anchor="end" font-size="11.8" fill="#4D4D4D"><tspan x="0" y="9.5">West North Central</tspan><tspan x="0" y="22.0">(Midwest)</tspan></text></g><g transform="translate(369.44,521.50) rotate(-30)"><text text-anchor="end" font-size="11.8" fill="#4D4D4D"><tspan x="0" y="9.5">South Atlantic</tspan><tspan x="0" y="22.0">(South)</tspan></text></g><g transform="translate(432.30,521.50) rotate(-30)"><text text-anchor="end" font-size="11.8" fill="#4D4D4D"><tspan x="0" y="9.5">East South Central</tspan><tspan x="0" y="22.0">(South)</tspan></text></g><g transform="translate(495.16,521.50) rotate(-30)"><text text-anchor="end" font-size="11.8" fill="#4D4D4D"><tspan x="0" y="9.5">West South Central</tspan><tspan x="0" y="22.0">(South)</tspan></text></g><g transform="translate(558.02,521.50) rotate(-30)"><text text-anchor="end" font-size="11.8" fill="#4D4D4D"><tspan x="0" y="9.5">Mountain</tspan><tspan x="0" y="22.0">(West)</tspan></text></g><g transform="translate(620.88,521.50) rotate(-30)"><text text-anchor="end" font-size="11.8" fill="#4D4D4D"><tspan x="0" y="9.5">Pacific</tspan><tspan x="0" y="22.0">(West)</tspan></text></g><text transform="translate(32.1,438.7) rotate(-90)" text-anchor="middle" font-size="14.85" fill="#000">Population Distribution</text><text x="1.6" y="370.7" font-size="14.0" font-weight="bold" fill="#000">b.</text><text x="369.4" y="611.6" text-anchor="middle" font-size="14.7" fill="#000">Geography: Census Division (&amp; Census Region)</text><defs><linearGradient id="cb" x1="0" x2="1" y1="0" y2="0"><stop offset="0.0000" stop-color="#3C6BB0"/><stop offset="0.1111" stop-color="#5093C3"/><stop offset="0.2222" stop-color="#7FB6D5"/><stop offset="0.3333" stop-color="#ADD6E5"/><stop offset="0.4444" stop-color="#DAE7EE"/><stop offset="0.5556" stop-color="#F2DED2"/><stop offset="0.6667" stop-color="#EDB198"/><stop offset="0.7778" stop-color="#E2866A"/><stop offset="0.8889" stop-color="#D05749"/><stop offset="1.0000" stop-color="#B22130"/></linearGradient></defs><rect x="269.8" y="630.2" width="293.60" height="18.60" fill="url(#cb)"/><line x1="269.80" x2="269.80" y1="630.2" y2="633.90" stroke="#FFFFFF" stroke-width="1"/><line x1="269.80" x2="269.80" y1="645.10" y2="648.8" stroke="#FFFFFF" stroke-width="1"/><text x="269.80" y="665.2" text-anchor="middle" font-size="12.0" fill="#1A1A1A">1</text><line x1="302.42" x2="302.42" y1="630.2" y2="633.90" stroke="#FFFFFF" stroke-width="1"/><line x1="302.42" x2="302.42" y1="645.10" y2="648.8" stroke="#FFFFFF" stroke-width="1"/><text x="302.42" y="665.2" text-anchor="middle" font-size="12.0" fill="#1A1A1A">2</text><line x1="335.04" x2="335.04" y1="630.2" y2="633.90" stroke="#FFFFFF" stroke-width="1"/><line x1="335.04" x2="335.04" y1="645.10" y2="648.8" stroke="#FFFFFF" stroke-width="1"/><text x="335.04" y="665.2" text-anchor="middle" font-size="12.0" fill="#1A1A1A">3</text><line x1="367.67" x2="367.67" y1="630.2" y2="633.90" stroke="#FFFFFF" stroke-width="1"/><line x1="367.67" x2="367.67" y1="645.10" y2="648.8" stroke="#FFFFFF" stroke-width="1"/><text x="367.67" y="665.2" text-anchor="middle" font-size="12.0" fill="#1A1A1A">4</text><line x1="400.29" x2="400.29" y1="630.2" y2="633.90" stroke="#FFFFFF" stroke-width="1"/><line x1="400.29" x2="400.29" y1="645.10" y2="648.8" stroke="#FFFFFF" stroke-width="1"/><text x="400.29" y="665.2" text-anchor="middle" font-size="12.0" fill="#1A1A1A">5</text><line x1="432.91" x2="432.91" y1="630.2" y2="633.90" stroke="#FFFFFF" stroke-width="1"/><line x1="432.91" x2="432.91" y1="645.10" y2="648.8" stroke="#FFFFFF" stroke-width="1"/><text x="432.91" y="665.2" text-anchor="middle" font-size="12.0" fill="#1A1A1A">6</text><line x1="465.53" x2="465.53" y1="630.2" y2="633.90" stroke="#FFFFFF" stroke-width="1"/><line x1="465.53" x2="465.53" y1="645.10" y2="648.8" stroke="#FFFFFF" stroke-width="1"/><text x="465.53" y="665.2" text-anchor="middle" font-size="12.0" fill="#1A1A1A">7</text><line x1="498.16" x2="498.16" y1="630.2" y2="633.90" stroke="#FFFFFF" stroke-width="1"/><line x1="498.16" x2="498.16" y1="645.10" y2="648.8" stroke="#FFFFFF" stroke-width="1"/><text x="498.16" y="665.2" text-anchor="middle" font-size="12.0" fill="#1A1A1A">8</text><line x1="530.78" x2="530.78" y1="630.2" y2="633.90" stroke="#FFFFFF" stroke-width="1"/><line x1="530.78" x2="530.78" y1="645.10" y2="648.8" stroke="#FFFFFF" stroke-width="1"/><text x="530.78" y="665.2" text-anchor="middle" font-size="12.0" fill="#1A1A1A">9</text><line x1="563.40" x2="563.40" y1="630.2" y2="633.90" stroke="#FFFFFF" stroke-width="1"/><line x1="563.40" x2="563.40" y1="645.10" y2="648.8" stroke="#FFFFFF" stroke-width="1"/><text x="563.40" y="665.2" text-anchor="middle" font-size="12.0" fill="#1A1A1A">10</text><text x="126.3" y="642.5" font-size="14.75" font-weight="bold" fill="#000">Overall</text><text x="126.3" y="658.0" font-size="14.75" font-weight="bold" fill="#000">Social Vulnerability</text><text x="126.3" y="673.8" font-size="14.75" font-weight="bold" fill="#000">Index Decile</text></svg></body></html>
